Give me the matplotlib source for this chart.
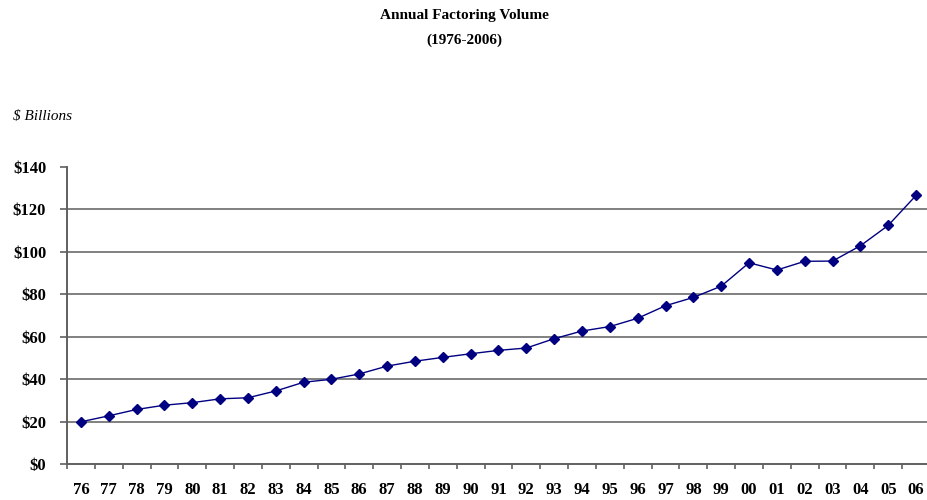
import numpy as np
import matplotlib.pyplot as plt

years = ["76", "77", "78", "79", "80", "81", "82", "83", "84", "85", "86",
         "87", "88", "89", "90", "91", "92", "93", "94", "95", "96", "97",
         "98", "99", "00", "01", "02", "03", "04", "05", "06"]
volume = [20.0, 22.8, 25.8, 27.8, 29.0, 30.8, 31.3, 34.5, 38.6, 40.0, 42.5,
          46.2, 48.5, 50.3, 52.0, 53.6, 54.7, 59.1, 62.7, 64.8, 68.7, 74.6,
          78.5, 83.8, 94.8, 91.4, 95.5, 95.6, 102.8, 112.4, 126.5]
yticks = [0, 20, 40, 60, 80, 100, 120, 140]

plt.rcParams['font.family'] = ['Liberation Serif', 'DejaVu Serif']

fig = plt.figure(figsize=(9.28, 5.0), dpi=100)
ax = fig.add_axes([67 / 928, 35.7 / 500, 863 / 928, 297.6 / 500])

x = np.arange(len(years))
ax.plot(x, volume, color="#000080", lw=1.0, marker="D", markersize=5.5,
        markerfacecolor="#000080", markeredgecolor="#000080", zorder=3)

ax.set_xlim(-0.5, len(years) - 0.5)
ax.set_ylim(0, 140)

# gridlines (no line at the top value)
for v in yticks[1:-1]:
    ax.axhline(v, color="#808080", lw=1.4, zorder=1)

ax.set_yticks(yticks)
ax.set_yticklabels([f"${v}" for v in yticks], fontsize=12, fontweight="bold")
ax.set_xticks(x)
ax.set_xticklabels(years, fontsize=12, fontweight="bold")
ax.set_xticks(np.arange(-0.5, len(years)), minor=True)
ax.tick_params(axis="x", which="major", length=0, pad=13)
ax.tick_params(axis="x", which="minor", length=3.5, width=1.2, color="#606060",
               direction="out")
ax.tick_params(axis="y", length=5, width=1.2, color="#606060", direction="out",
               pad=10)

for s in ["top", "right"]:
    ax.spines[s].set_visible(False)
for s in ["left", "bottom"]:
    ax.spines[s].set_color("#606060")
    ax.spines[s].set_linewidth(1.4)

fig.text(0.5, 1 - 16 / 500, "Annual Factoring Volume", ha="center",
         va="center", fontsize=11, fontweight="bold")
fig.text(0.5, 1 - 40 / 500, "(1976-2006)", ha="center", va="center",
         fontsize=11, fontweight="bold")
fig.text(13 / 928, 1 - 116 / 500, "$ Billions", ha="left", va="center",
         fontsize=11, fontstyle="italic")

fig.savefig("out.png", dpi=100)
